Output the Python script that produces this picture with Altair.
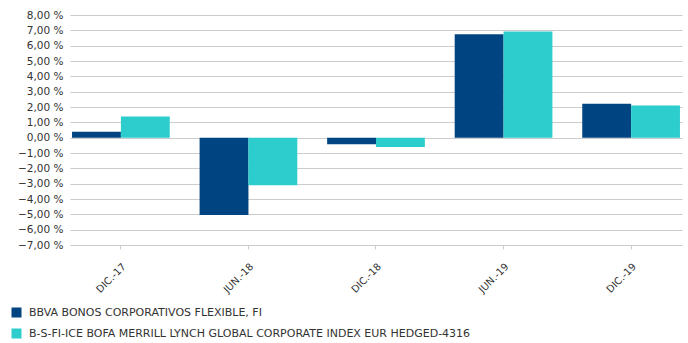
import altair as alt
import pandas as pd

categories = ["DIC.-17", "JUN.-18", "DIC.-18", "JUN.-19", "DIC.-19"]
series_names = [
    "BBVA BONOS CORPORATIVOS FLEXIBLE, FI",
    "B-S-FI-ICE BOFA MERRILL LYNCH GLOBAL CORPORATE INDEX EUR HEDGED-4316",
]
fund_values = [0.39, -5.05, -0.43, 6.74, 2.22]
index_values = [1.38, -3.10, -0.61, 6.93, 2.10]
colors = ["#004481", "#2DCCCD"]

rows = []
for c, v in zip(categories, fund_values):
    rows.append({"periodo": c, "serie": series_names[0], "valor": v})
for c, v in zip(categories, index_values):
    rows.append({"periodo": c, "serie": series_names[1], "valor": v})
df = pd.DataFrame(rows)

FONT = "DejaVu Sans"

chart = alt.Chart(df).mark_bar().encode(
    x=alt.X(
        "periodo:N",
        sort=categories,
        title=None,
        scale=alt.Scale(paddingInner=0.234, paddingOuter=0.016),
        axis=alt.Axis(
            labelAngle=-45,
            labelFont=FONT,
            labelFontSize=10,
            labelColor="#333333",
            tickColor="#cccccc",
            tickSize=4,
            domainColor="#cccccc",
            labelPadding=12,
            grid=False,
        ),
    ),
    xOffset=alt.XOffset("serie:N", sort=series_names, scale=alt.Scale(paddingInner=0, paddingOuter=0)),
    y=alt.Y(
        "valor:Q",
        title=None,
        scale=alt.Scale(domain=[-7, 8], nice=False, zero=False),
        axis=alt.Axis(
            values=list(range(-7, 9)),
            labelExpr="replace(format(datum.value, '.2f'), '.', ',') + ' %'",
            labelFont=FONT,
            labelFontSize=10.5,
            labelColor="#333333",
            ticks=False,
            domain=False,
            labelPadding=7,
            gridColor="#cccccc",
            gridWidth=1,
        ),
    ),
    color=alt.Color(
        "serie:N",
        sort=series_names,
        scale=alt.Scale(domain=series_names, range=colors),
        legend=alt.Legend(
            title=None,
            orient="none",
            legendX=-59,
            legendY=292,
            direction="vertical",
            symbolType="square",
            symbolSize=100,
            symbolStrokeWidth=0,
            labelFont=FONT,
            labelFontSize=11,
            labelColor="#333333",
            labelLimit=0,
            labelOffset=7,
            rowPadding=9,
            padding=0,
        ),
    ),
).properties(
    width=612,
    height=230,
    autosize=alt.AutoSizeParams(type="none"),
    padding={"left": 70, "top": 15, "right": 6, "bottom": 98},
).configure_view(stroke=None)

chart.save("out.html", embed_options={"renderer": "svg", "actions": False})
